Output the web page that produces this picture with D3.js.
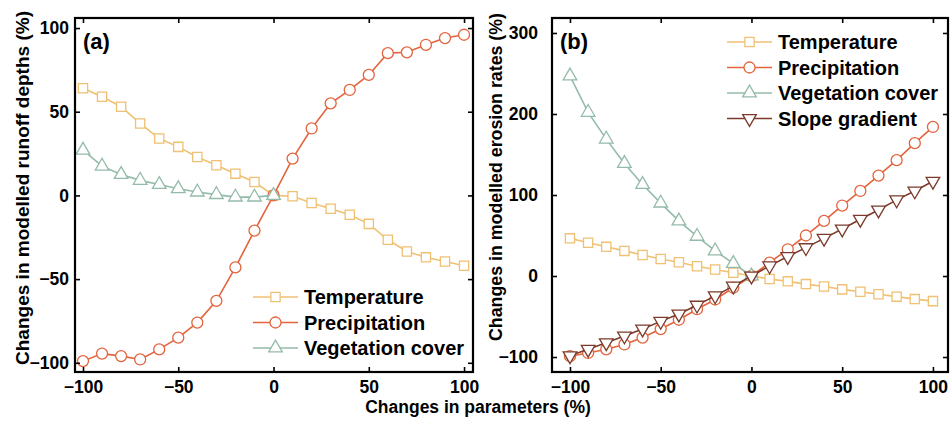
<!DOCTYPE html>
<html>
<head>
<meta charset="utf-8">
<script src="https://cdn.jsdelivr.net/npm/d3@7"></script>
<style>
  body { margin: 0; background: #fff; }
  text { font-family: "Liberation Sans", Arial, sans-serif; font-weight: bold; }
</style>
</head>
<body>
<div id="svg1"></div>
<script>
// x values shared by every series
var xs = [-100, -90, -80, -70, -60, -50, -40, -30, -20, -10, 0, 10, 20, 30, 40, 50, 60, 70, 80, 90, 100];
var xsNeg = [-100, -90, -80, -70, -60, -50, -40, -30, -20, -10, 0];
var xTicks = [-100, -50, 0, 50, 100];

// panel (a): runoff depths
var runoffTemp = [64, 59, 53, 43, 34, 29, 23, 18, 13, 8, 0, -0.5, -4.5, -8, -11.5, -17, -26.5, -33.5, -37, -39.5, -42];
var runoffPrec = [-99, -94.5, -96, -98, -92, -85, -76, -63, -43, -21, 0, 22, 40, 55, 63, 72, 85, 85.5, 90, 94, 96];
var runoffVeg = [27, 17.5, 12.5, 9, 6.5, 4, 2, 0.5, -1, -1, 0];
var yTicksA = [-100, -50, 0, 50, 100];

// panel (b): erosion rates
var erosionTemp = [46.5, 41, 36, 31, 26, 21, 17, 12, 8, 4, 0, -3.7, -6.6, -10, -13, -16.5, -19.5, -22.5, -25.5, -28.5, -31];
var erosionPrec = [-99, -95, -90.5, -84.5, -76, -65.5, -54, -41, -29, -14.5, 0, 16.5, 33, 50, 68, 87, 105, 124, 143, 164, 184];
var erosionVeg = [247, 202, 169, 139, 113, 90, 68, 49, 31, 15.5, 0];
var erosionSlope = [-98.5, -90.5, -82.5, -74, -65.5, -56, -47, -36, -24.5, -12.5, 0, 12.5, 24, 35, 46.5, 58, 70, 81.5, 94, 105, 117];
var yTicksB = [-100, 0, 100, 200, 300];

var colors = {temp: "#f0c073", prec: "#e3643d", veg: "#94bba9", slope: "#7b3a2b"};

var width = 952;
var height = 421;
var svg = d3.select("#svg1").append("svg")
  .attr("width", width)
  .attr("height", height);

var symbols = {
  square: d3.symbolSquare,
  circle: d3.symbolCircle,
  triangle: d3.symbolTriangle,
  down: d3.symbolTriangle
};

function drawMarker(g, shape, color, x, y) {
  var size = shape == "circle" ? 95 : (shape == "square" ? 85 : 80);
  g.append("path")
    .attr("d", d3.symbol().type(symbols[shape]).size(size)())
    .attr("transform", "translate(" + x + "," + y + ")" + (shape == "down" ? " rotate(180)" : ""))
    .attr("fill", "#fff")
    .attr("stroke", color)
    .attr("stroke-width", 1.3);
}

/**
 * Draw one panel
 */
function drawPanel(opt) {
  var g = svg.append("g");
  var x = d3.scaleLinear().domain(opt.xDomain).range([opt.left, opt.right]);
  var y = d3.scaleLinear().domain(opt.yDomain).range([opt.bottom, opt.top]);

  // series
  opt.series.forEach(function(s) {
    var pts = s.xs.map(function(v, i) { return [v, s.values[i]]; });
    var line = d3.line().x(function(d) { return x(d[0]); }).y(function(d) { return y(d[1]); });
    g.append("path")
      .attr("d", line(pts))
      .attr("fill", "none")
      .attr("stroke", s.color)
      .attr("stroke-width", 1.6);
    pts.forEach(function(d) {
      drawMarker(g, s.shape, s.color, x(d[0]), y(d[1]));
    });
  });

  // axes with inward ticks on all four sides
  var tl = 5;
  g.append("g").attr("transform", "translate(0," + opt.bottom + ")")
    .call(d3.axisBottom(x).tickValues(xTicks).tickSize(-tl).tickPadding(9).tickFormat(d3.format("d")));
  g.append("g").attr("transform", "translate(0," + opt.top + ")")
    .call(d3.axisTop(x).tickValues(xTicks).tickSize(-tl).tickFormat(""));
  g.append("g").attr("transform", "translate(" + opt.left + ",0)")
    .call(d3.axisLeft(y).tickValues(opt.yTicks).tickSize(-tl).tickPadding(opt.yPad).tickFormat(d3.format("d")));
  g.append("g").attr("transform", "translate(" + opt.right + ",0)")
    .call(d3.axisRight(y).tickValues(opt.yTicks).tickSize(-tl).tickFormat(""));
  g.selectAll(".domain").remove();
  g.selectAll(".tick line").attr("stroke", "#000").attr("stroke-width", 1.6);
  g.selectAll(".tick text")
    .attr("fill", "#000")
    .style("font-size", "17.5px")
    .style("font-weight", "bold")
    .style("font-family", "'Liberation Sans', Arial, sans-serif");

  g.append("rect")
    .attr("x", opt.left).attr("y", opt.top)
    .attr("width", opt.right - opt.left).attr("height", opt.bottom - opt.top)
    .attr("fill", "none").attr("stroke", "#000").attr("stroke-width", 2.2);

  // panel label
  g.append("text")
    .attr("x", opt.left + 8).attr("y", opt.top + 31)
    .style("font-size", "22px")
    .text(opt.label);

  // y title
  g.append("text")
    .attr("transform", "translate(" + opt.yTitleX + "," + opt.yTitleY + ") rotate(-90)")
    .attr("text-anchor", "middle")
    .attr("textLength", opt.yTitleLen)
    .attr("lengthAdjust", "spacingAndGlyphs")
    .style("font-size", opt.yTitleSize)
    .text(opt.yTitle);

  // legend
  opt.series.forEach(function(s, i) {
    var ly = opt.legendY + i * opt.legendStep;
    g.append("line")
      .attr("x1", opt.legendX).attr("x2", opt.legendX + 45)
      .attr("y1", ly).attr("y2", ly)
      .attr("stroke", s.color).attr("stroke-width", 1.6);
    drawMarker(g, s.shape, s.color, opt.legendX + 22.5, ly);
    g.append("text")
      .attr("x", opt.legendX + 51).attr("y", ly + 7)
      .style("font-size", "20px")
      .text(s.name);
  });
}

drawPanel({
  left: 75, right: 473, top: 18, bottom: 372,
  xDomain: [-104.2, 104.7], yDomain: [-105.5, 106],
  yTicks: yTicksA, yPad: 6, label: "(a)",
  yTitle: "Changes in modelled runoff depths (%)", yTitleX: 29, yTitleY: 188, yTitleLen: 354, yTitleSize: "19px",
  legendX: 253, legendY: 297, legendStep: 25.5,
  series: [
    {name: "Temperature", xs: xs, values: runoffTemp, color: colors.temp, shape: "square"},
    {name: "Precipitation", xs: xs, values: runoffPrec, color: colors.prec, shape: "circle"},
    {name: "Vegetation cover", xs: xsNeg, values: runoffVeg, color: colors.veg, shape: "triangle"}
  ]
});

drawPanel({
  left: 552, right: 948, top: 18, bottom: 372,
  xDomain: [-109.9, 108.3], yDomain: [-118.5, 318.5],
  yTicks: yTicksB, yPad: 14, label: "(b)",
  yTitle: "Changes in modelled erosion rates (%)", yTitleX: 502, yTitleY: 177, yTitleLen: 328, yTitleSize: "18px",
  legendX: 727, legendY: 42, legendStep: 25.5,
  series: [
    {name: "Temperature", xs: xs, values: erosionTemp, color: colors.temp, shape: "square"},
    {name: "Precipitation", xs: xs, values: erosionPrec, color: colors.prec, shape: "circle"},
    {name: "Vegetation cover", xs: xsNeg, values: erosionVeg, color: colors.veg, shape: "triangle"},
    {name: "Slope gradient", xs: xs, values: erosionSlope, color: colors.slope, shape: "down"}
  ]
});

// shared x title
svg.append("text")
  .attr("x", 478).attr("y", 413)
  .attr("text-anchor", "middle")
  .style("font-size", "17.5px")
  .text("Changes in parameters (%)");
</script>
</body>
</html>
